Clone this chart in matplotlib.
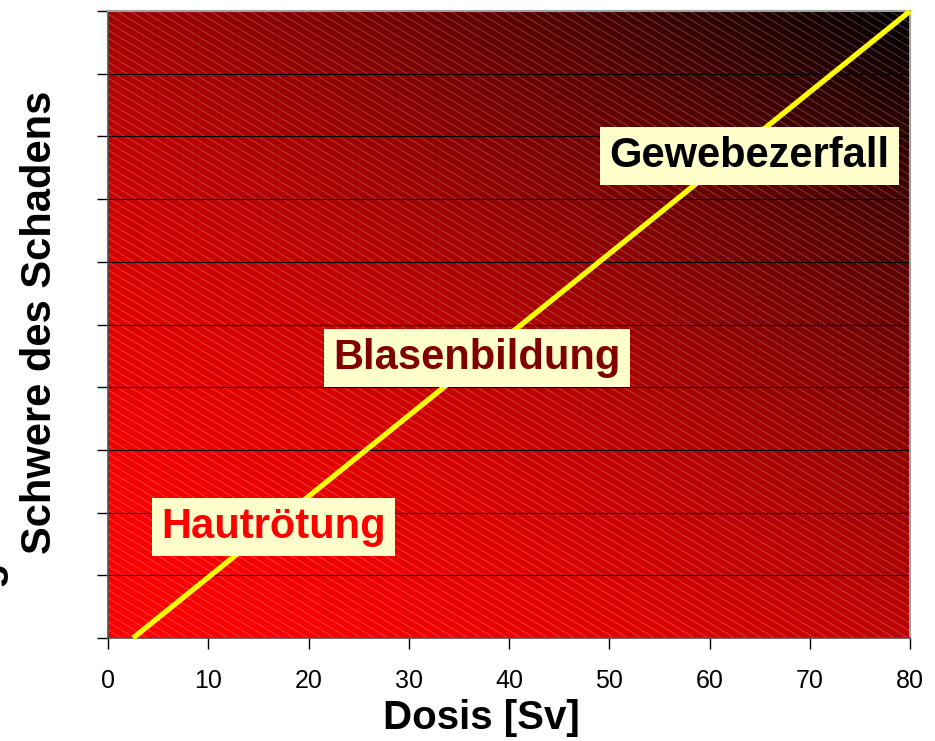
import matplotlib.pyplot as plt
import numpy as np

plt.rcParams['font.family'] = ['Liberation Sans', 'DejaVu Sans']

# yellow damage line
dose = [2.5, 80]
severity = [0, 10]

x_ticks = [0, 10, 20, 30, 40, 50, 60, 70, 80]
y_ticks = [0, 1, 2, 3, 4, 5, 6, 7, 8, 9, 10]

labels = ["Hautrötung", "Blasenbildung", "Gewebezerfall"]
label_x = [16.5, 36.8, 64.0]
label_y = [1.77, 4.47, 7.69]
label_colors = ["#FF0000", "#800000", "#000000"]

fig = plt.figure(figsize=(9.35, 7.41), dpi=100)
ax = fig.add_axes([0.1155, 0.139, 0.8578, 0.846])

# diagonal red -> black gradient background
u = np.linspace(0, 1, 400)
v = np.linspace(1, 0, 400)
U, V = np.meshgrid(u, v)
t = (0.45 * U + 0.55 * V) ** 1.7
img = np.zeros((400, 400, 3))
img[..., 0] = 1 - t
ax.imshow(img, extent=[0, 1, 0, 1], transform=ax.transAxes, aspect='auto', zorder=0)

# fine light hatch lines
W, H = 802.0, 627.0
slope = 0.6
for c in np.arange(0, H + slope * W, 8):
    ax.plot([0, 1], [c / H, (c - slope * W) / H], color='white', alpha=0.28,
            lw=0.6, transform=ax.transAxes, zorder=1)

ax.set_xlim(0, 80)
ax.set_ylim(0, 10)
ax.set_xticks(x_ticks)
ax.set_yticks(y_ticks)
ax.set_yticklabels([])
ax.tick_params(axis='both', direction='out', length=8, width=1, color='black', labelsize=18)
ax.tick_params(axis='x', pad=14)

for yy in y_ticks[1:-1]:
    ax.axhline(yy, color='black', lw=0.8, zorder=2)

ax.plot(dose, severity, color='#FFFF00', lw=3.8, zorder=3, clip_on=False, solid_capstyle='butt')

for txt, xx, yy, col in zip(labels, label_x, label_y, label_colors):
    ax.text(xx, yy, txt, color=col, fontsize=30, fontweight='bold', ha='center', va='center',
            zorder=4, bbox=dict(boxstyle='square,pad=0.22', facecolor='#FFFFCC', edgecolor='none'))

for side in ['top', 'right']:
    ax.spines[side].set_color('#A0A0A0')
    ax.spines[side].set_linewidth(1.5)
for side in ['left', 'bottom']:
    ax.spines[side].set_color('#505050')
    ax.spines[side].set_linewidth(1.2)

ax.set_xlabel("Dosis [Sv]", fontsize=29, fontweight='bold')
ax.xaxis.set_label_coords(0.466, -0.097)
ax.set_ylabel("Schwere des Schadens", fontsize=30, fontweight='bold')
ax.yaxis.set_label_coords(-0.06, 0.504)

# clipped first line of the y label
fig.text(-0.014, 0.225, "g", rotation=90, fontsize=30, fontweight='bold', ha='center', va='center')

fig.savefig("out.png", dpi=100)
